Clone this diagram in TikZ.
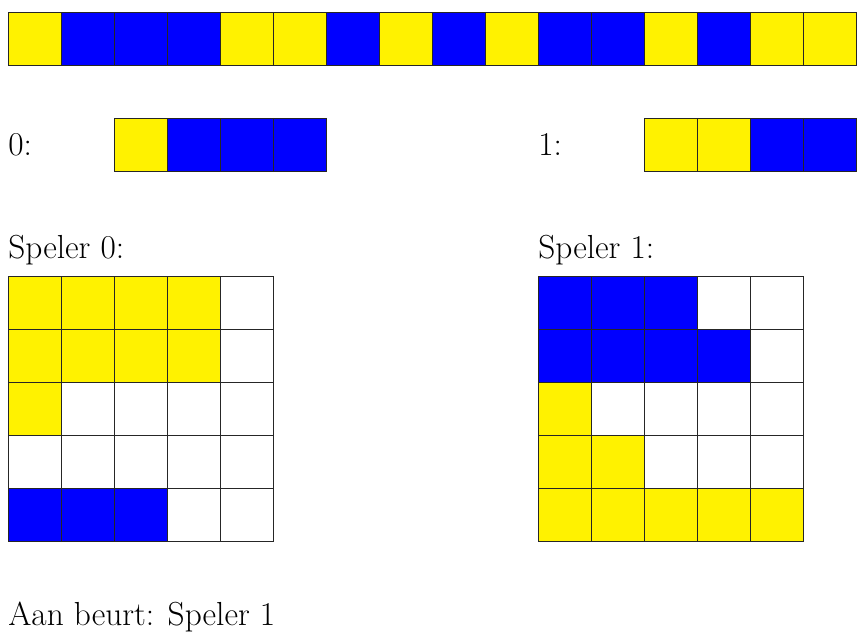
\documentclass[tikz,border=0pt]{standalone}
\usepackage{tikz}
\usetikzlibrary{positioning}
\colorlet{cellY}{yellow}
\colorlet{cellB}{blue}
\colorlet{cellW}{white}
\tikzset{
  cellbox/.style={
    draw=black!85, thin, rectangle, anchor=north west,
    minimum size=1cm, inner sep=0pt, outer sep=0pt
  },
  gamelabel/.style={
    anchor=base west, inner sep=0pt,
    font=\fontsize{17.9}{21}\selectfont
  },
}
\begin{document}
\begin{tikzpicture}
  \useasboundingbox (0,0) rectangle (16.189,-11.981);

  % ── Row of all tiles ──────────────────────────────────────────
  \foreach \c [count=\i from 0] in
    {Y,B,B,B,Y,Y,B,Y,B,Y,B,B,Y,B,Y,Y}
    \node[cellbox, fill=cell\c] (row-\i) at (0.151+\i, -0.226) {};

  % ── Hands ─────────────────────────────────────────────────────
  \node[gamelabel] (hand0lbl) at (0.151, -2.925) {0:};
  \foreach \c [count=\i from 0] in {Y,B,B,B}
    \node[cellbox, fill=cell\c] (hand0-\i) at (2.151+\i, -2.226) {};

  \node[gamelabel] (hand1lbl) at (10.151, -2.925) {1:};
  \foreach \c [count=\i from 0] in {Y,Y,B,B}
    \node[cellbox, fill=cell\c] (hand1-\i) at (12.151+\i, -2.226) {};

  % ── Boards ────────────────────────────────────────────────────
  \node[gamelabel] (board0lbl) at (0.151, -4.868) {Speler 0:};
  \foreach \rowcols [count=\r from 0] in
    {{Y,Y,Y,Y,W},{Y,Y,Y,Y,W},{Y,W,W,W,W},{W,W,W,W,W},{B,B,B,W,W}}
    \foreach \c [count=\i from 0] in \rowcols
      \node[cellbox, fill=cell\c] (board0-\r-\i) at (0.151+\i, -5.208-\r) {};

  \node[gamelabel] (board1lbl) at (10.151, -4.868) {Speler 1:};
  \foreach \rowcols [count=\r from 0] in
    {{B,B,B,W,W},{B,B,B,B,W},{Y,W,W,W,W},{Y,Y,W,W,W},{Y,Y,Y,Y,Y}}
    \foreach \c [count=\i from 0] in \rowcols
      \node[cellbox, fill=cell\c] (board1-\r-\i) at (10.151+\i, -5.208-\r) {};

  % Turn
  \node[gamelabel] (turn) at (0.151, -11.811) {Aan beurt: Speler 1};
\end{tikzpicture}
\end{document}
